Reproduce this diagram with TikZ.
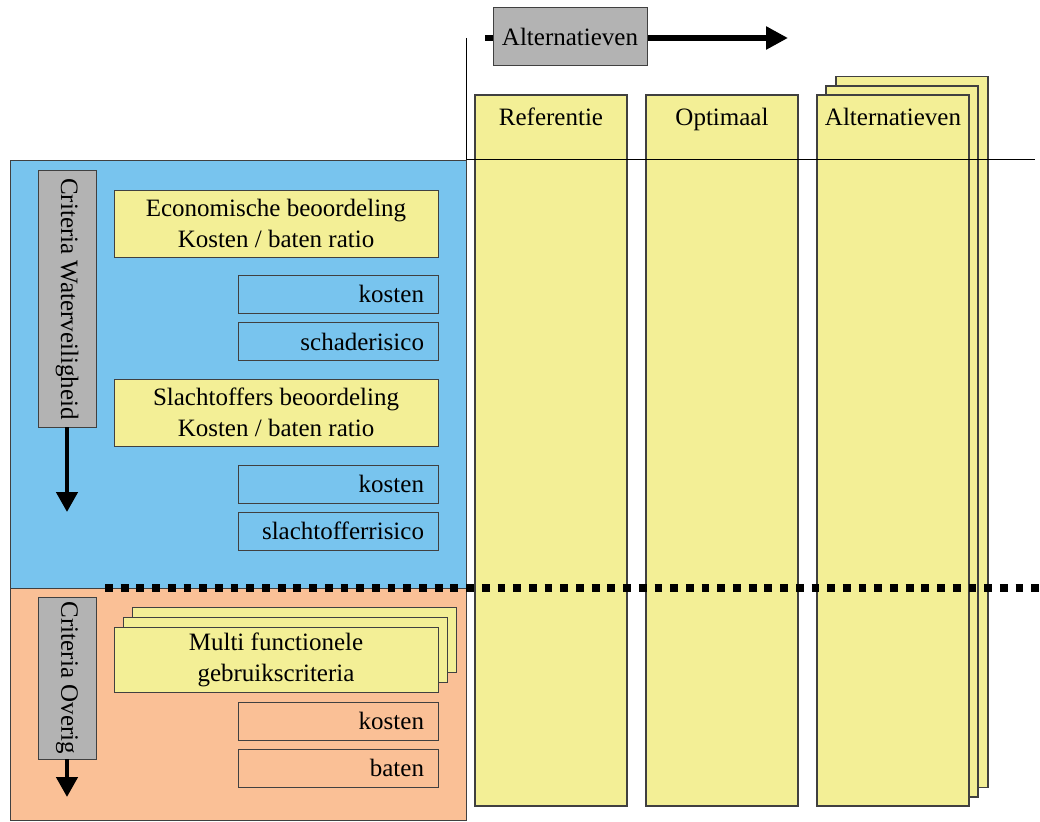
\documentclass[tikz,border=0pt]{standalone}
\usepackage{fontspec}
\setmainfont{Liberation Serif}
\usetikzlibrary{arrows.meta,positioning}
\definecolor{waterblue}{RGB}{120,196,238}
\definecolor{overigorange}{RGB}{250,192,150}
\definecolor{crityellow}{RGB}{243,239,150}
\definecolor{labelgray}{RGB}{179,179,179}
\definecolor{edgegray}{RGB}{64,64,64}

\begin{document}
\begin{tikzpicture}[x=1pt, y=-1pt,
    every node/.style={font=\fontsize{25}{31}\selectfont, inner sep=0pt, outer sep=0pt},
    area/.style={draw=edgegray, line width=1pt, rectangle},
    column/.style={draw=edgegray, line width=1.2pt, fill=crityellow, rectangle, minimum width=152pt, minimum height=711pt},
    critbox/.style={draw=edgegray, line width=1pt, fill=crityellow, rectangle, minimum width=324pt, align=center},
    subbox/.style={draw=edgegray, line width=1pt, rectangle, minimum width=200pt, minimum height=38pt, text width=172pt, align=right, inner xsep=14pt},
    graylabel/.style={draw=edgegray, line width=1pt, fill=labelgray, rectangle},
    flowarrow/.style={line width=6pt, -{Triangle[length=22pt,width=22pt]}},
    downarrow/.style={line width=4.5pt, -{Triangle[length=20pt,width=21pt]}}]
    \useasboundingbox (0,0) rectangle (1040,821);

    % Left side - criteria areas
    \node[area, fill=waterblue, minimum width=456pt, minimum height=427pt] (water) at (238,374.5) {};
    \node[area, fill=overigorange, minimum width=456pt, minimum height=232pt] (overig) at (238,704) {};

    % Top - alternatives arrow
    \coordinate (altstart) at (485,38);
    \coordinate (altend) at (788,38);
    \draw[flowarrow] (altstart) -- (altend);
    \node[graylabel, minimum width=154pt, minimum height=58pt] (alttitle) at (570,37) {Alternatieven};

    % Right side - columns
    \node[column, label={[anchor=base, yshift=-31pt]north:Referentie}] (referentie) at (551,450.5) {};
    \node[column, label={[anchor=base, yshift=-31pt]north:Optimaal}] (optimaal) at (722,450.5) {};
    \node[column] (altback) at (912,432) {};
    \node[column] (altmid) at (902,441.5) {};
    \node[column, label={[anchor=base, yshift=-31pt]north:Alternatieven}] (altfront) at (893,450.5) {};

    % Header lines
    \coordinate (vtop) at (466,38);
    \coordinate (hleft) at (466,160);
    \coordinate (hright) at (1035,160);
    \draw[line width=1pt] (vtop) -- (hleft);
    \draw[line width=1pt] (hleft) -- (hright);

    % Waterveiligheid criteria
    \node[graylabel, rotate=-90, minimum width=256pt, minimum height=58pt] (waterlabel) at (67,299) {Criteria Waterveiligheid};
    \coordinate (waterend) at (67,512);
    \draw[downarrow] (waterlabel.east) -- (waterend);
    \node[critbox, minimum height=67pt] (econ) at (276,223.5) {Economische beoordeling\\Kosten / baten ratio};
    \node[subbox, fill=waterblue] (kostenecon) at (338,294) {kosten};
    \node[subbox, fill=waterblue] (schade) at (338,341.5) {schaderisico};
    \node[critbox, minimum height=67pt] (slacht) at (276,412.5) {Slachtoffers beoordeling\\Kosten / baten ratio};
    \node[subbox, fill=waterblue] (kostenslacht) at (338,484) {kosten};
    \node[subbox, fill=waterblue] (slachtrisico) at (338,531) {slachtofferrisico};

    % Overige criteria
    \node[graylabel, rotate=-90, minimum width=162pt, minimum height=58pt] (overiglabel) at (67,678) {Criteria Overig};
    \coordinate (overigend) at (67,797);
    \draw[downarrow] (overiglabel.east) -- (overigend);
    \node[critbox, minimum height=65pt] (multiback) at (294.5,640) {};
    \node[critbox, minimum height=65pt] (multimid) at (285.5,649.5) {};
    \node[critbox, minimum height=65pt] (multi) at (276,659.5) {Multi functionele\\gebruikscriteria};
    \node[subbox, fill=overigorange] (kostenmulti) at (338,721) {kosten};
    \node[subbox, fill=overigorange] (baten) at (338,768) {baten};

    % Dotted separator
    \coordinate (sepleft) at (105,588);
    \coordinate (sepright) at (1040,588);
    \draw[line width=8pt, dash pattern=on 7.85pt off 7.85pt] (sepleft) -- (sepright);
\end{tikzpicture}
\end{document}
